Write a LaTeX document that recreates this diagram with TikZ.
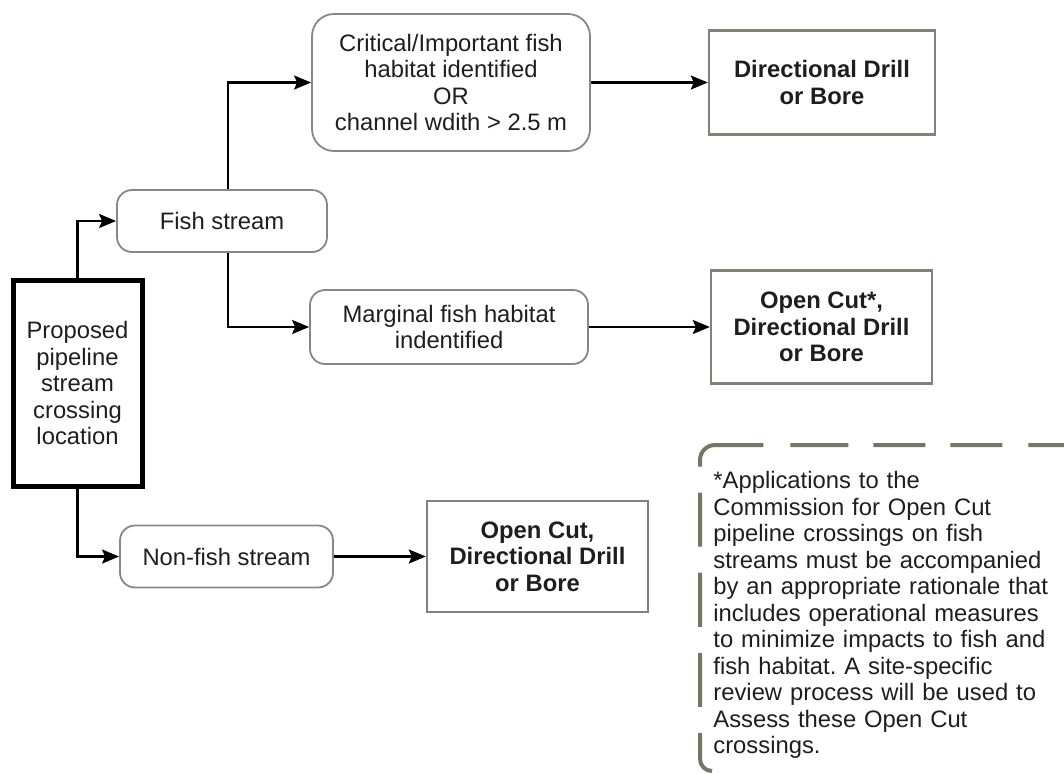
\documentclass[tikz,border=0pt]{standalone}
\usepackage{fontspec}
\setmainfont{Liberation Sans}
\usetikzlibrary{arrows.meta}
\definecolor{textgray}{RGB}{30,30,30}
\definecolor{boxgray}{RGB}{135,135,135}
\definecolor{methodgray}{RGB}{130,130,118}
\definecolor{notegray}{RGB}{118,118,98}
\frenchspacing
\begin{document}
\begin{tikzpicture}[x=0.5pt, y=-0.5pt,
    every node/.style={font=\fontsize{11.9}{13.25}\selectfont, text=textgray, align=center, inner sep=0pt},
    choice/.style={draw=boxgray, line width=0.9pt, rounded corners=7.5pt},
    method/.style={draw=methodgray, line width=1.2pt, font=\fontsize{11.9}{13.25}\selectfont\bfseries},
    arr/.style={-{Stealth[length=8.5pt, width=7pt, inset=1.5pt]}, line width=1.1pt, black},
    frame/.style={draw=notegray, line width=2pt}]
    \useasboundingbox (0, 0) rectangle (1064, 773);
    % Start and the two kinds of stream
    \node [draw=black, line width=2.5pt, minimum width=64.5pt, minimum height=103pt] (loc) at (77.5, 383) {Proposed\\pipeline\\stream\\crossing\\location};
    \node [choice, minimum width=105pt, minimum height=31pt] (fish) at (222, 221) {Fish stream};
    \node [choice, minimum width=106.5pt, minimum height=31pt] (nonfish) at (226.5, 556.5) {Non-fish stream};
    % Habitat checks
    \node [choice, rounded corners=11pt, minimum width=139pt, minimum height=68.5pt] (crit) at (451, 82.5) {Critical/Important fish\\habitat identified\\OR\\channel wdith > 2.5 m};
    \node [choice, minimum width=139pt, minimum height=37pt] (marg) at (449, 327) {Marginal fish habitat\\indentified};
    % Crossing methods
    \node [method, minimum width=113pt, minimum height=52pt] (drill) at (822, 82.5) {Directional Drill\\or Bore};
    \node [method, minimum width=110.5pt, minimum height=56.5pt] (opencutstar) at (821.5, 327) {Open Cut*,\\Directional Drill\\or Bore};
    \node [method, minimum width=110.5pt, minimum height=55.5pt] (opencut) at (537.5, 556.5) {Open Cut,\\Directional Drill\\or Bore};
    % Arrows
    \draw [arr] (loc.north) |- (fish.west);
    \draw [arr] ([xshift=3pt]fish.north) |- (crit.west);
    \draw [arr] (crit.east) -- (drill.west);
    \draw [arr] ([xshift=3pt]fish.south) |- (marg.west);
    \draw [arr] (marg.east) -- (opencutstar.west);
    \draw [arr] (loc.south) |- (nonfish.west);
    \draw [arr] (nonfish.east) -- (opencut.west);
    % Footnote with dashed frame
    \draw [frame, rounded corners=6pt, dash pattern=on 27pt off 13pt, dash phase=4.5pt] (712, 771) -- (700, 771) -- (700, 462);
    \draw [frame, rounded corners=7.5pt, dash pattern=on 37pt off 13.5pt on 29pt off 12.5pt on 26pt off 12.5pt on 26pt off 13pt on 30pt off 10pt] (700, 462) -- (700, 445) -- (1070, 445);
    \node [anchor=north west, align=left, text width=172pt] (note) at (713, 471) {*Applications to the\\Commission for Open Cut\\pipeline crossings on fish\\streams must be accompanied\\by an appropriate rationale that\\includes operational measures\\to minimize impacts to fish and\\fish habitat. A site-specific\\review process will be used to\\Assess these Open Cut\\crossings.};
\end{tikzpicture}
\end{document}
